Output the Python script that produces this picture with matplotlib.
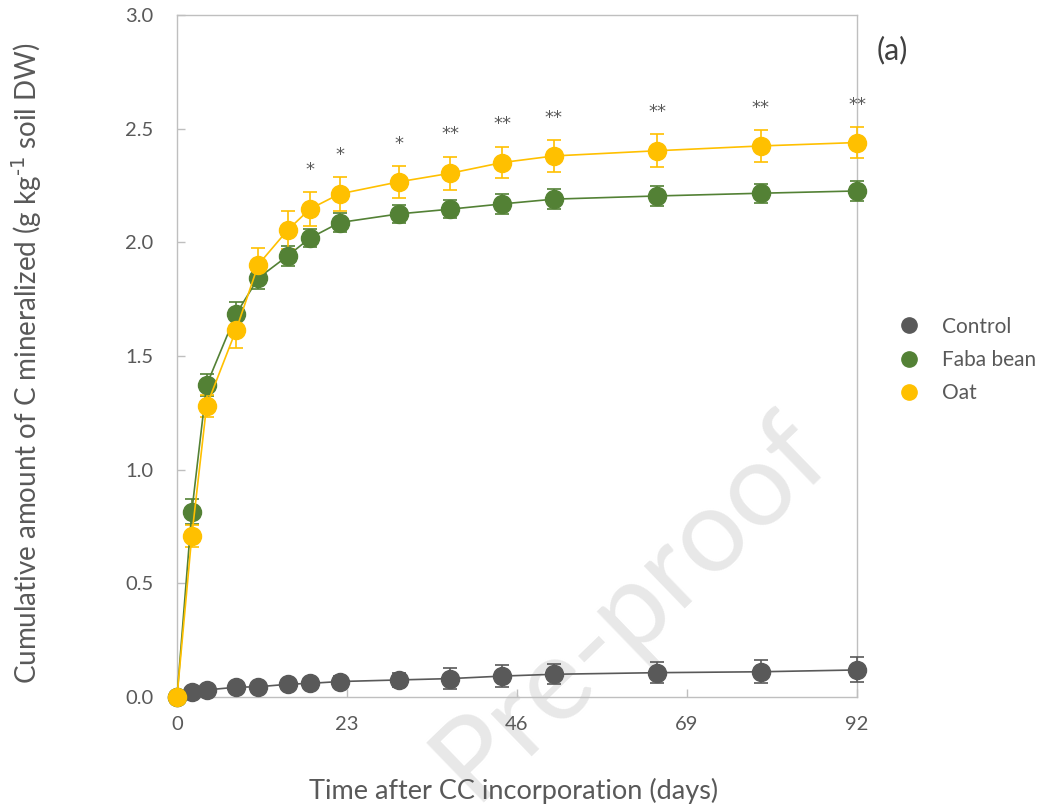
import matplotlib
matplotlib.use("Agg")
import matplotlib.pyplot as plt
import numpy as np
from matplotlib.lines import Line2D

plt.rcParams['font.family'] = ['Lato', 'DejaVu Sans']
plt.rcParams['mathtext.default'] = 'regular'

days = [0, 2, 4, 8, 11, 15, 18, 22, 30, 37, 44, 51, 65, 79, 92]
control = [0.0, 0.021, 0.031, 0.043, 0.045, 0.056, 0.060, 0.068, 0.075, 0.081, 0.092, 0.100, 0.107, 0.111, 0.119]
control_err = [0.0, 0.01, 0.01, 0.01, 0.01, 0.015, 0.02, 0.025, 0.03, 0.045, 0.048, 0.043, 0.046, 0.050, 0.055]
faba = [0.0, 0.815, 1.372, 1.685, 1.843, 1.941, 2.019, 2.087, 2.125, 2.146, 2.169, 2.190, 2.204, 2.216, 2.226]
faba_err = [0.0, 0.056, 0.05, 0.053, 0.048, 0.045, 0.040, 0.042, 0.038, 0.040, 0.044, 0.044, 0.044, 0.042, 0.042]
oat = [0.0, 0.708, 1.280, 1.615, 1.902, 2.055, 2.147, 2.213, 2.266, 2.304, 2.351, 2.380, 2.403, 2.424, 2.439]
oat_err = [0.0, 0.05, 0.05, 0.078, 0.075, 0.085, 0.073, 0.075, 0.069, 0.073, 0.070, 0.069, 0.072, 0.069, 0.068]
signif = ['', '', '', '', '', '', '*', '*', '*', '**', '**', '**', '**', '**', '**']

series = [
    ('Control', control, control_err, '#595959'),
    ('Faba bean', faba, faba_err, '#538135'),
    ('Oat', oat, oat_err, '#FFC000'),
]

fig = plt.figure(figsize=(10.54, 8.08), dpi=100)
ax = fig.add_axes([177/1054, 1-697/808, (857-177)/1054, (697-15)/808])
ax.patch.set_alpha(0)

# watermark
fig.text(0.598, 0.25, 'Pre-proof', rotation=44, rotation_mode='anchor',
         ha='center', va='center', fontsize=84, color='#E8E8E8', zorder=-5,
         family=['Lato', 'DejaVu Sans'])

for name, vals, errs, col in series:
    ax.errorbar(days, vals, yerr=errs, color=col, lw=1.2, marker='o', ms=13,
                mec=col, mfc=col, ecolor=col, elinewidth=1.2, capsize=5, capthick=1.2,
                clip_on=False, zorder=3)

for d, v, e, s in zip(days, oat, oat_err, signif):
    if s:
        ax.annotate(s, (d, v + e), xytext=(0, 16),
                    textcoords='offset points', ha='center', va='center',
                    fontsize=13, color='#595959', family='DejaVu Sans')

ax.set_xlim(0, 92)
ax.set_ylim(0, 3.0)
ax.set_xticks([0, 23, 46, 69, 92])
ax.set_yticks(np.arange(0, 3.01, 0.5))
ax.set_yticklabels([f'{v:.1f}' for v in np.arange(0, 3.01, 0.5)])
for sp in ax.spines.values():
    sp.set_color('#BFBFBF')
    sp.set_linewidth(1.0)
ax.tick_params(direction='in', length=6, width=1.0, color='#BFBFBF',
               labelcolor='#595959', labelsize=14.5)
ax.tick_params(axis='y', pad=17)
ax.tick_params(axis='x', pad=14)

ax.set_ylabel('Cumulative amount of C mineralized (g kg$^{\\text{-1}}$ soil DW)',
              fontsize=20, color='#595959')
ax.yaxis.set_label_coords(-0.196, 0.49)
ax.set_xlabel('Time after CC incorporation (days)', fontsize=19.5, color='#595959')
ax.xaxis.set_label_coords(0.495, -0.118)

fig.text(877/1054, 1-50/808, '(a)', fontsize=22, color='#404040', va='center', ha='left')

handles = [Line2D([], [], ls='none', marker='o', ms=11, mfc=c, mec=c) for _, _, _, c in series]
leg = fig.legend(handles, [s[0] for s in series], loc='center left',
                 bbox_to_anchor=(878/1054, 1-360/808), frameon=False, fontsize=15,
                 handletextpad=0.95, labelspacing=0.64, handlelength=1.2, labelcolor='#595959')

fig.savefig('out.png', dpi=100)
